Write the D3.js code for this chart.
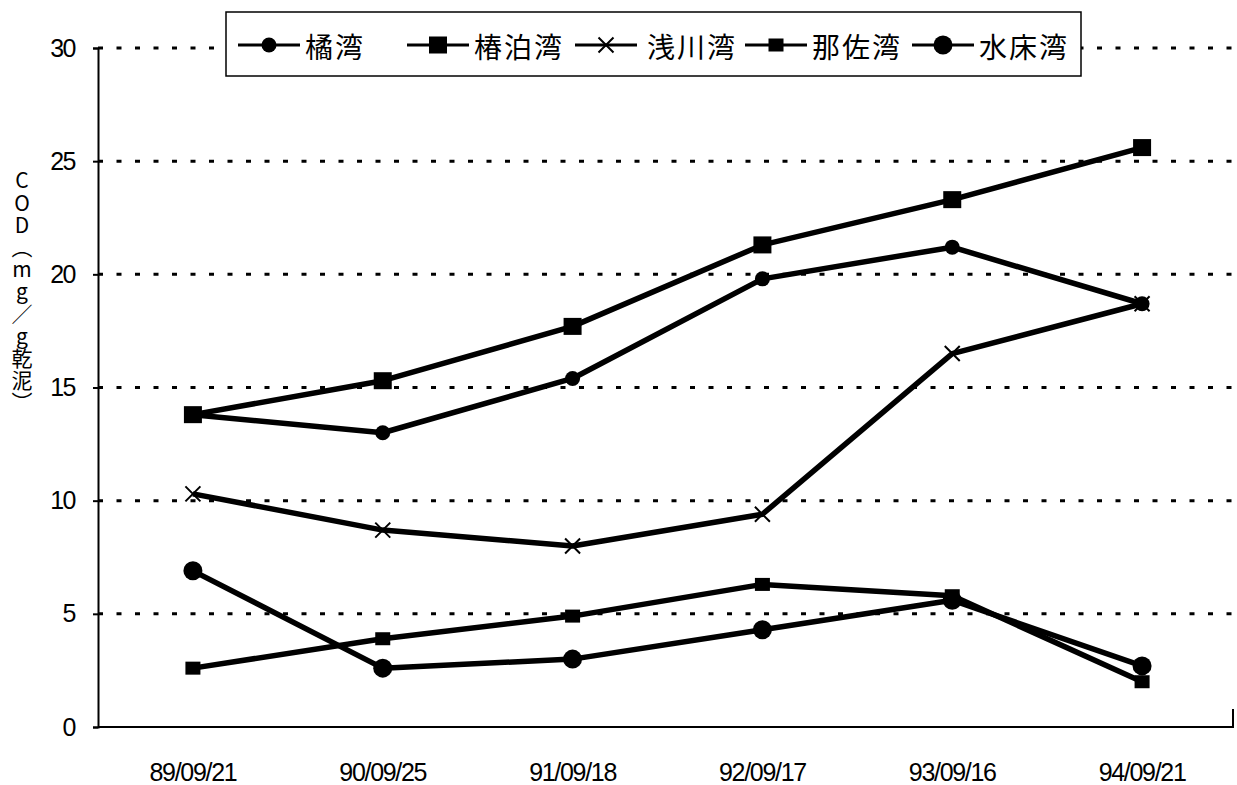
<!DOCTYPE html>
<html>
<head>
<meta charset="utf-8">
<script src="https://cdn.jsdelivr.net/npm/d3@7"></script>
<style>
  body { margin: 0; background: white; }
  svg { display: block; }
</style>
</head>
<body>
<div id="chart"></div>
<script>
// Survey dates (x categories)
const dates = ["89/09/21", "90/09/25", "91/09/18", "92/09/17", "93/09/16", "94/09/21"];

// COD values (mg/g dry mud) per bay
const tachibana = [13.8, 13.0, 15.4, 19.8, 21.2, 18.7];
const tsubakidomari = [13.8, 15.3, 17.7, 21.3, 23.3, 25.6];
const asakawa = [10.3, 8.7, 8.0, 9.4, 16.5, 18.7];
const nasa = [2.6, 3.9, 4.9, 6.3, 5.8, 2.0];
const mitoko = [6.9, 2.6, 3.0, 4.3, 5.6, 2.7];

const seriesNames = ["橘湾", "椿泊湾", "浅川湾", "那佐湾", "水床湾"];
const seriesValues = [tachibana, tsubakidomari, asakawa, nasa, mitoko];
const markerTypes = ["smallCircle", "bigSquare", "cross", "smallSquare", "bigCircle"];

const yTicks = [0, 5, 10, 15, 20, 25, 30];
const yTitle = "COD（mg／g乾泥）";

let width = 1237, height = 785;
let margin = { top: 48, bottom: 58, left: 98, right: 0 };

let svg = d3.select("#chart")
    .append("svg")
    .attr("width", width)
    .attr("height", height)
    .style("background", "white");

let x = d3.scaleBand()
    .domain(dates)
    .range([margin.left, width - margin.right])
    .padding(0);

let y = d3.scaleLinear()
    .domain([0, 30])
    .range([height - margin.bottom, margin.top]);

const cx = d => x(d) + x.bandwidth() / 2;

// dotted gridlines
svg.append("g")
    .selectAll("line")
    .data(yTicks.filter(t => t > 0))
    .enter()
    .append("line")
    .attr("x1", margin.left)
    .attr("x2", width)
    .attr("y1", d => y(d))
    .attr("y2", d => y(d))
    .attr("stroke", "black")
    .attr("stroke-width", 3)
    .attr("stroke-dasharray", "5,13.5");

// y axis
let yAxis = svg.append("g")
    .attr("transform", `translate(${margin.left},0)`)
    .call(d3.axisLeft(y).tickValues(yTicks).tickSize(5).tickPadding(18));
yAxis.select(".domain").attr("stroke-width", 2);
yAxis.selectAll(".tick line").attr("stroke-width", 2);
yAxis.selectAll("text")
    .style("font-family", "'Liberation Sans', Arial, sans-serif")
    .style("font-size", "25px")
    .style("letter-spacing", "-1.5px")
    .attr("fill", "black");

// x axis (just baseline and labels)
let xAxis = svg.append("g")
    .attr("transform", `translate(0,${height - margin.bottom})`)
    .call(d3.axisBottom(x).tickSize(0).tickPadding(36));
xAxis.select(".domain")
    .attr("d", `M${margin.left},0H${width - 4}V-18`)
    .attr("stroke-width", 2);
xAxis.selectAll("text")
    .style("font-family", "'Liberation Sans', Arial, sans-serif")
    .style("font-size", "25px")
    .style("letter-spacing", "-1.3px")
    .attr("fill", "black");

// y axis title, written vertically
svg.append("text")
    .attr("x", 22)
    .attr("y", 170)
    .style("writing-mode", "vertical-rl")
    .style("text-orientation", "upright")
    .style("font-family", "'Noto Sans CJK JP', sans-serif")
    .style("font-size", "21px")
    .style("letter-spacing", "1.2px")
    .text(yTitle);

function drawMarker(g, type, px, py) {
    if (type === "smallCircle") {
        g.append("circle").attr("cx", px).attr("cy", py).attr("r", 7.5).attr("fill", "black");
    } else if (type === "bigCircle") {
        g.append("circle").attr("cx", px).attr("cy", py).attr("r", 9.5).attr("fill", "black");
    } else if (type === "bigSquare") {
        g.append("rect").attr("x", px - 9).attr("y", py - 8.5).attr("width", 18).attr("height", 17).attr("fill", "black");
    } else if (type === "smallSquare") {
        g.append("rect").attr("x", px - 7.5).attr("y", py - 6.5).attr("width", 15).attr("height", 13).attr("fill", "black");
    } else if (type === "cross") {
        const s = 7.5;
        g.append("path")
            .attr("d", `M${px - s},${py - s}L${px + s},${py + s}M${px - s},${py + s}L${px + s},${py - s}`)
            .attr("stroke", "black")
            .attr("stroke-width", 2)
            .attr("fill", "none");
    }
}

let line = d3.line()
    .x((d, i) => cx(dates[i]))
    .y(d => y(d));

// series lines and markers
seriesValues.forEach((vals, k) => {
    let g = svg.append("g");
    g.append("path")
        .datum(vals)
        .attr("d", line)
        .attr("fill", "none")
        .attr("stroke", "black")
        .attr("stroke-width", 5.5)
        .attr("stroke-linejoin", "round");
    vals.forEach((v, i) => drawMarker(g, markerTypes[k], cx(dates[i]), y(v)));
});

// legend
const legendX = [238, 407, 575, 745, 912];
let legend = svg.append("g");
legend.append("rect")
    .attr("x", 226)
    .attr("y", 12)
    .attr("width", 855)
    .attr("height", 64)
    .attr("fill", "white")
    .attr("stroke", "black")
    .attr("stroke-width", 1.5);

seriesNames.forEach((name, k) => {
    let lx = legendX[k];
    legend.append("line")
        .attr("x1", lx)
        .attr("x2", lx + 62)
        .attr("y1", 45)
        .attr("y2", 45)
        .attr("stroke", "black")
        .attr("stroke-width", 3);
    drawMarker(legend, markerTypes[k], lx + 31, 45);
    legend.append("text")
        .attr("x", lx + (k === 2 ? 72 : 67))
        .attr("y", 46)
        .attr("dominant-baseline", "central")
        .style("font-family", "'Noto Sans CJK JP', sans-serif")
        .style("font-size", "28px")
        .style("letter-spacing", "2px")
        .text(name);
});
</script>
</body>
</html>
